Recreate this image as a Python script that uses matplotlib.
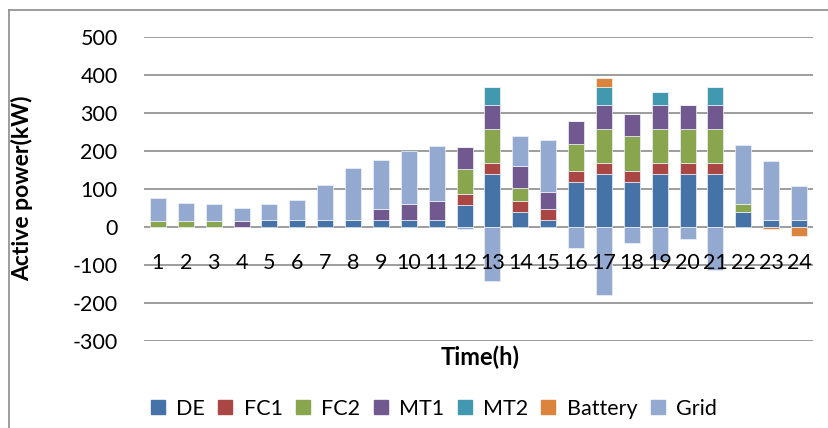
import matplotlib
matplotlib.use("Agg")
import matplotlib.pyplot as plt
from matplotlib.lines import Line2D
import numpy as np

hours = [str(h) for h in range(1, 25)]

de = [0, 0, 0, 0, 18, 18, 18, 18, 18, 18, 18, 57, 139, 39, 18, 118, 139, 118, 139, 139, 139, 39, 18, 18]
fc1 = [0, 0, 0, 0, 0, 0, 0, 0, 0, 0, 0, 29, 30, 29, 30, 30, 30, 30, 30, 30, 30, 0, 0, 0]
fc2 = [15, 15, 15, 0, 0, 0, 0, 0, 0, 0, 0, 67, 90, 34, 0, 71, 90, 91, 90, 90, 90, 21, 0, 0]
mt1 = [0, 0, 0, 17, 0, 0, 0, 0, 30, 42, 50, 58, 61, 59, 45, 60, 61, 59, 61, 61, 61, 0, 0, 0]
mt2 = [0, 0, 0, 0, 0, 0, 0, 0, 0, 0, 0, 0, 49, 0, 0, 0, 49, 0, 36, 0, 49, 0, 0, 0]
battery = [0, 0, 0, 0, 0, 0, 0, 0, 0, 0, 0, 0, 0, 0, 0, 0, 23, 0, 0, 0, 0, 0, -5, -24]
grid = [61, 49, 45, 33, 42, 54, 92, 136, 128, 139, 145, -5, -143, 79, 136, -56, -179, -43, -86, -32, -114, 155, 156, 91]

series = [
    ("DE", de, "#4572A7"),
    ("FC1", fc1, "#AA4643"),
    ("FC2", fc2, "#89A54E"),
    ("MT1", mt1, "#71588F"),
    ("MT2", mt2, "#4198AF"),
    ("Battery", battery, "#DB843D"),
    ("Grid", grid, "#93A9CF"),
]

plt.rcParams["font.family"] = ["Lato", "DejaVu Sans"]
plt.rcParams["axes.unicode_minus"] = False

fig = plt.figure(figsize=(8.29, 4.28), dpi=100)
ax = fig.add_axes([144 / 829, 1 - 341 / 428, 669 / 829, 304 / 428])

x = np.arange(len(hours))
pos_bottom = np.zeros(len(hours))
neg_bottom = np.zeros(len(hours))
for name, vals, color in series:
    v = np.array(vals, dtype=float)
    bottom = np.where(v >= 0, pos_bottom, neg_bottom)
    ax.bar(x, v, width=0.57, bottom=bottom, color=color,
           edgecolor="#eef2f8", linewidth=0.5, zorder=3)
    pos_bottom += np.where(v > 0, v, 0)
    neg_bottom += np.where(v < 0, v, 0)

ax.set_xlim(-0.5, len(hours) - 0.5)
ax.set_ylim(-300, 500)
ax.set_yticks(np.arange(-300, 501, 100))
ax.yaxis.grid(True, color="#8c8c8c", linewidth=1.2, zorder=0)
ax.set_axisbelow(True)
ax.set_xticks([])
ax.tick_params(axis="y", length=0, pad=19, labelsize=15.5)
for s in ax.spines.values():
    s.set_visible(False)

for xi, lab in zip(x, hours):
    ax.text(xi, -95, lab, ha="center", va="center", fontsize=15.5, zorder=4)

fig.text(22 / 829, 1 - 188 / 428, "Active power(kW)", rotation=90,
         ha="center", va="center", fontsize=16.5, fontweight="bold")
fig.text(480 / 829, 1 - 357 / 428, "Time(h)", ha="center", va="center",
         fontsize=17, fontweight="bold")

handles = [Line2D([], [], marker="s", linestyle="none", markersize=10,
                  markerfacecolor=c, markeredgecolor=c) for _, _, c in series]
fig.legend(handles, [n for n, _, _ in series], loc="center",
           bbox_to_anchor=(433 / 829, 1 - 409 / 428), ncol=7, frameon=False,
           fontsize=15.5, handlelength=0.8, handletextpad=0.45, columnspacing=0.55)

fig.add_artist(Line2D([9 / 829, 9 / 829], [0, 1 - 10 / 428],
                      transform=fig.transFigure, color="#8c8c8c", linewidth=1.2))
fig.add_artist(Line2D([9 / 829, 1], [1 - 10 / 428, 1 - 10 / 428],
                      transform=fig.transFigure, color="#8c8c8c", linewidth=1.2))

fig.savefig("out.png", dpi=100)
